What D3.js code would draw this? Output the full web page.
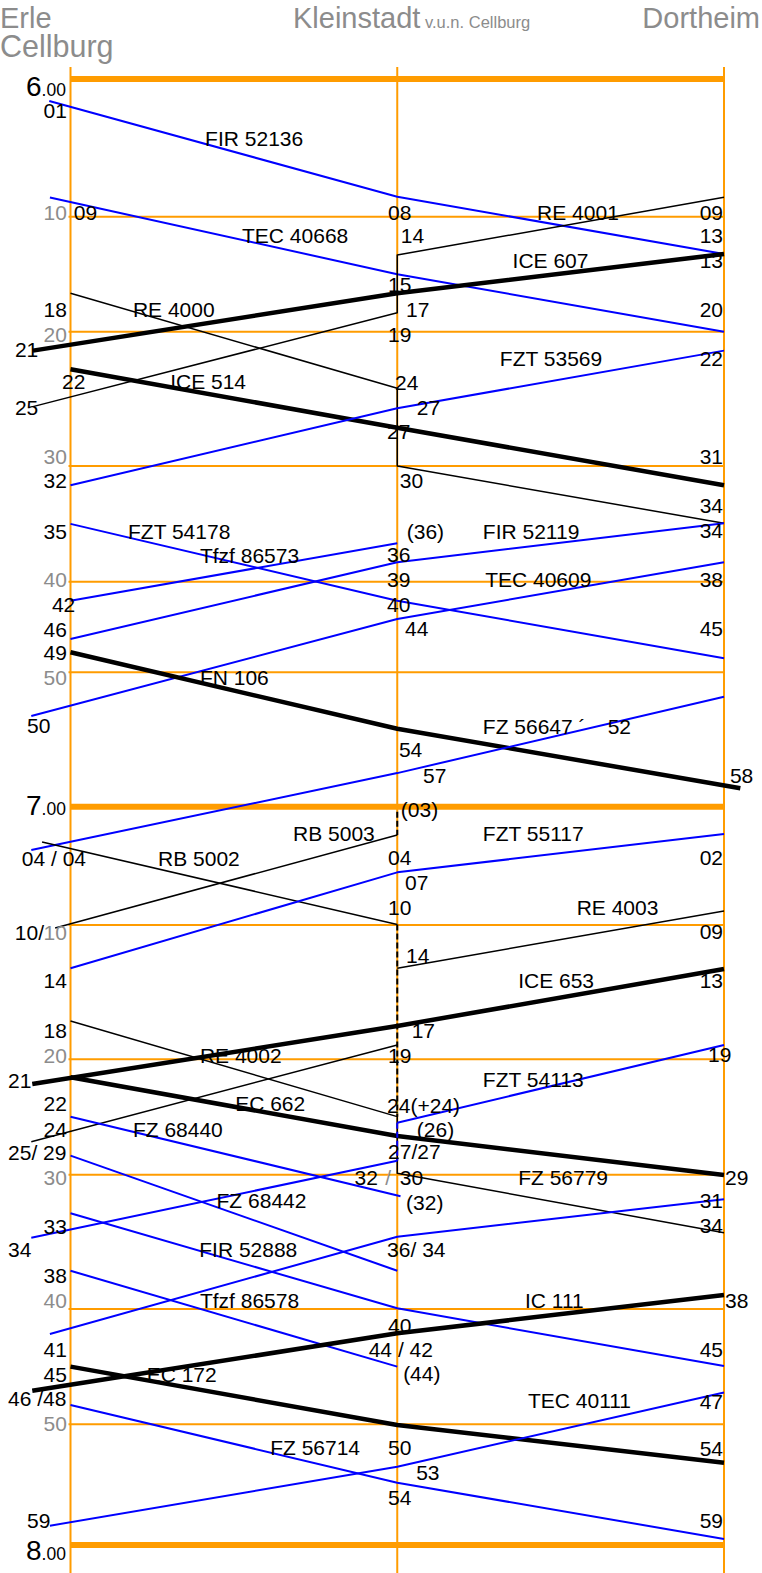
<!DOCTYPE html>
<html>
<head>
<meta charset="utf-8">
<script src="https://cdn.jsdelivr.net/npm/d3@7/dist/d3.min.js"></script>
<style>
  body { margin: 0; background: #fff; }
  text { font-family: "Liberation Sans", Arial, sans-serif; }
</style>
</head>
<body>
<svg id="graph-svg" width="762" height="1573"></svg>
<script>
// stations along the line, km
const stations = [
    { name: 'Erle', km: 0 },
    { name: 'Kleinstadt', km: 10 },
    { name: 'Dortheim', km: 20 }
]
// time in minutes after 6.00
const hourMarks = [[0, '6'], [60, '7'], [120, '8']]
const gridMinutes = [10, 20, 30, 40, 50, 70, 80, 90, 100, 110]

// trains: points are [km, minute]; null breaks the line
// kind: b = blue (Güter/Tfzf), n = thin black, f = thick black
const trains = [
    { name: 'FIR 52136', kind: 'b', pts: [[-0.65, 1.6], [10, 8.55], [20, 13.24]] },
    { name: 'TEC 40668', kind: 'b', pts: [[-0.63, 8.6], [10, 15.0], [20, 20.0]] },
    { name: 'RE 4001', kind: 'n', pts: [[20, 8.59], [10, 13.33], [10, 18.35], [-1.15, 25.58]] },
    { name: 'ICE 607', kind: 'f', pts: [[20, 13.24], [10, 16.66], [-1.15, 21.41]] },
    { name: 'RE 4000', kind: 'n', pts: [[0, 16.66], [10, 24.21], [10, 30.0], [20, 34.95]] },
    { name: 'ICE 514', kind: 'f', pts: [[0, 22.8], [10, 27.15], [20, 31.67]] },
    { name: 'FZT 53569', kind: 'b', pts: [[20, 21.41], [10, 25.7], [0, 31.67]] },
    { name: 'FZT 54178', kind: 'b', pts: [[0, 35.0], [10, 42.1], [20, 48.45]] },
    { name: 'Tfzf 86573', kind: 'b', pts: [[0, 42.1], [10, 36.68]] },
    { name: 'FIR 52119', kind: 'b', pts: [[20, 34.95], [10, 38.32], [0, 46.32]] },
    { name: 'TEC 40609', kind: 'b', pts: [[20, 38.32], [10, 44.12], [-1.2, 53.25]] },
    { name: 'FN 106', kind: 'f', pts: [[0, 47.79], [10, 54.2], [20.5, 58.63]] },
    { name: 'FZ 56647', kind: 'b', pts: [[20, 51.82], [10, 57.5], [-1.2, 63.66]] },
    { name: 'RB 5003', kind: 'n', pts: [[-0.47, 70.22], [10, 62.39]] },
    { name: 'RB 5002', kind: 'n', pts: [[-0.87, 62.98], [10, 69.95]] },
    { name: 'FZT 55117', kind: 'b', pts: [[20, 62.31], [10, 65.55], [0, 73.22]] },
    { name: 'RE 4003', kind: 'n', pts: [[20, 68.82], [10, 73.22], null, [10, 78.93], [-1.2, 87.14]] },
    { name: 'ICE 653', kind: 'f', pts: [[20, 73.28], [10, 77.52], [-1.17, 82.14]] },
    { name: 'RE 4002', kind: 'n', pts: [[0, 77.15], [10, 84.97], [10, 89.88], [20, 94.32]] },
    { name: 'EC 662', kind: 'f', pts: [[0, 81.56], [10, 86.65], [20, 90.02]] },
    { name: 'FZT 54113', kind: 'b', pts: [[20, 78.93], [10, 85.5], null, [10, 88.79], [-1.2, 94.69]] },
    { name: 'FZ 68440', kind: 'b', pts: [[0, 84.97], [10.1, 91.6]] },
    { name: 'FZ 68442', kind: 'b', pts: [[0, 88.35], [10, 97.15]] },
    { name: 'FZ 56779', kind: 'b', pts: [[20, 91.83], [10, 94.62], [-0.63, 102.17]] },
    { name: 'FIR 52888', kind: 'b', pts: [[0, 92.87], [10, 99.95], [20, 104.95]] },
    { name: 'Tfzf 86578', kind: 'b', pts: [[0, 97.15], [10, 105.0]] },
    { name: 'IC 111', kind: 'f', pts: [[20, 98.96], [10, 102.11], [-1.17, 107.09]] },
    { name: 'EC 172', kind: 'f', pts: [[0, 105.0], [10, 110.06], [20, 113.18]] },
    { name: 'TEC 40111', kind: 'b', pts: [[20, 107.24], [10, 113.51], [-0.63, 118.4]] },
    { name: 'FZ 56714', kind: 'b', pts: [[0, 108.33], [10, 114.84], [20, 119.5]] }
]

// waiting / shunting at Kleinstadt, dashed: [km, from, to, kind]
const shunts = [
    [10, 60.42, 62.39, 'n'],
    [10, 69.95, 84.97, 'n'],
    [10, 85.5, 88.79, 'b']
]

// train names: [text, km, minute]
const trainLabels = [
    ['FIR 52136', 4.12, 4.87], ['RE 4001', 14.28, 10.29], ['TEC 40668', 5.25, 12.29],
    ['ICE 607', 13.53, 14.46], ['RE 4000', 1.91, 18.72], ['FZT 53569', 13.14, 22.55],
    ['ICE 514', 3.05, 24.27], ['FZT 54178', 1.76, 36.34], ['FIR 52119', 12.62, 36.34],
    ['Tfzf 86573', 3.96, 38.36], ['TEC 40609', 12.69, 40.62], ['FN 106', 3.96, 50.94],
    ['FZ 56647 \u00b4', 12.62, 54.59],
    ['RB 5003', 6.81, 62.87], ['FZT 55117', 12.62, 62.87], ['RB 5002', 2.68, 64.99],
    ['RE 4003', 15.49, 69.15], ['ICE 653', 13.7, 74.71], ['RE 4002', 3.96, 80.29],
    ['FZT 54113', 12.62, 82.37], ['EC 662', 5.04, 84.45], ['FZ 68440', 1.91, 86.71],
    ['FZ 56779', 13.7, 90.77], ['FZ 68442', 4.47, 92.5], ['FIR 52888', 3.94, 96.15],
    ['Tfzf 86578', 3.96, 99.95], ['IC 111', 13.91, 99.95], ['EC 172', 2.33, 106.31],
    ['TEC 40111', 14.0, 108.59], ['FZ 56714', 6.11, 112.54]
]

// minute labels: [text, km, minute, anchor]
const timeLabels = [
    ['01', -0.11, 2.83, 'end'], ['09', 0.1, 10.29, 'start'], ['08', 9.72, 10.29, 'start'],
    ['09', 19.97, 10.29, 'end'], ['14', 10.11, 12.29, 'start'], ['13', 19.97, 12.29, 'end'],
    ['13', 19.97, 14.46, 'end'], ['15', 9.72, 16.52, 'start'], ['18', -0.11, 18.72, 'end'],
    ['17', 10.27, 18.72, 'start'], ['20', 19.97, 18.72, 'end'], ['19', 9.72, 20.74, 'start'],
    ['21', -1.7, 21.86, 'start'], ['22', 19.97, 22.55, 'end'], ['22', -0.26, 24.27, 'start'],
    ['24', 9.93, 24.34, 'start'], ['25', -1.7, 26.2, 'start'], ['27', 10.6, 26.2, 'start'],
    ['27', 9.69, 27.99, 'start'], ['31', 19.97, 29.87, 'end'], ['32', -0.11, 31.93, 'end'],
    ['30', 10.08, 31.93, 'start'], ['34', 19.97, 34.04, 'end'], ['35', -0.11, 36.34, 'end'],
    ['(36)', 10.29, 36.34, 'start'], ['34', 19.97, 36.25, 'end'], ['36', 9.69, 38.27, 'start'],
    ['39', 9.69, 40.62, 'start'], ['38', 19.97, 40.62, 'end'], ['42', -0.57, 43.31, 'start'],
    ['40', 9.69, 43.31, 'start'], ['46', -0.11, 46.07, 'end'], ['44', 10.24, 45.99, 'start'],
    ['45', 19.97, 45.99, 'end'], ['49', -0.11, 48.64, 'end'], ['50', -1.33, 54.54, 'start'],
    ['52', 16.44, 54.59, 'start'], ['54', 10.05, 56.32, 'start'], ['57', 10.79, 58.26, 'start'],
    ['58', 20.18, 58.26, 'start'], ['(03)', 10.11, 60.85, 'start'],
    ['04 / 04', -1.49, 64.99, 'start'], ['04', 9.72, 64.93, 'start'], ['02', 19.97, 64.93, 'end'],
    ['07', 10.24, 67.04, 'start'], ['10', 9.72, 69.15, 'start'], ['10/', -0.81, 71.12, 'end'],
    ['09', 19.97, 71.06, 'end'], ['14', 10.27, 72.81, 'start'], ['14', -0.11, 74.71, 'end'],
    ['13', 19.97, 74.71, 'end'], ['18', -0.11, 78.44, 'end'], ['17', 10.44, 78.44, 'start'],
    ['19', 9.72, 80.29, 'start'], ['19', 19.51, 80.21, 'start'], ['21', -1.91, 82.51, 'start'],
    ['22', -0.11, 84.45, 'end'], ['24(+24)', 9.69, 84.68, 'start'], ['24', -0.11, 86.71, 'end'],
    ['(26)', 10.6, 86.76, 'start'], ['25/ 29', -1.91, 88.73, 'start'], ['27/27', 9.72, 88.67, 'start'],
    ['32', 9.41, 90.77, 'end'], ['30', 10.08, 90.77, 'start'], ['29', 20.03, 90.77, 'start'],
    ['(32)', 10.27, 92.63, 'start'], ['31', 19.97, 92.5, 'end'], ['33', -0.11, 94.42, 'end'],
    ['34', 19.97, 94.36, 'end'], ['34', -1.91, 96.11, 'start'], ['36/ 34', 9.69, 96.11, 'start'],
    ['38', -0.11, 98.09, 'end'], ['38', 20.03, 99.95, 'start'], ['40', 9.72, 102.08, 'start'],
    ['41', -0.11, 104.14, 'end'], ['44', 9.84, 104.14, 'end'], ['/ 42', 10.02, 104.14, 'start'],
    ['45', 19.97, 104.14, 'end'], ['45', -0.11, 106.31, 'end'], ['(44)', 10.18, 106.24, 'start'],
    ['46 /48', -1.91, 108.41, 'start'], ['47', 19.97, 108.67, 'end'], ['50', 9.72, 112.54, 'start'],
    ['54', 19.97, 112.63, 'end'], ['53', 10.58, 114.61, 'start'], ['54', 9.72, 116.69, 'start'],
    ['59', -1.33, 118.62, 'start'], ['59', 19.97, 118.62, 'end']
]

// grey grid labels: [text, km, minute, anchor]
const gridLabels = [
    ['10', -0.11, 10.29, 'end'], ['20', -0.11, 20.74, 'end'], ['30', -0.11, 29.87, 'end'],
    ['40', -0.11, 40.62, 'end'], ['50', -0.11, 50.94, 'end'],
    ['10', -0.11, 71.12, 'end'], ['20', -0.11, 80.29, 'end'], ['30', -0.11, 90.77, 'end'],
    ['40', -0.11, 99.95, 'end'], ['50', -0.11, 110.56, 'end'], ['/', 9.63, 90.77, 'start']
]
// hour label baselines, minutes
const hourLabelAt = [1.23, 60.7, 121.24]

const colours = { b: '#0000ff', n: '#000', f: '#000', grid: '#ff9c00', grey: '#8c8c8c' }
const widths = { b: 2, n: 1.5, f: 4.5 }

const svg = d3.select('#graph-svg')
const x = d3.scaleLinear().domain([0, 20]).range([70.5, 724])
// the printed time grid is not evenly spaced
const y = d3.scaleLinear()
    .domain(d3.range(0, 121, 10))
    .range([79, 216.7, 331.7, 466, 581.7, 672.3, 806.7, 925, 1059.3, 1174.7, 1309, 1424.3, 1545])

// header
const head = svg.append('g').attr('fill', colours.grey).style('font-size', '29px')
head.append('text').attr('x', 0).attr('y', 28).text('Erle')
head.append('text').attr('x', 0).attr('y', 57).style('font-size', '30.5px').text('Cellburg')
head.append('text').attr('x', 293).attr('y', 28).text(stations[1].name)
head.append('text').attr('x', 425).attr('y', 28).style('font-size', '16.5px').text('v.u.n. Cellburg')
head.append('text').attr('x', 760).attr('y', 28).attr('text-anchor', 'end').text(stations[2].name)

// orange grid
const grid = svg.append('g').attr('stroke', colours.grid)
grid.selectAll('line.station')
    .data(stations)
    .join('line')
    .attr('class', 'station')
    .attr('x1', d => x(d.km)).attr('x2', d => x(d.km))
    .attr('y1', 67).attr('y2', 1573)
    .attr('stroke-width', 2)
grid.selectAll('line.minute')
    .data(gridMinutes)
    .join('line')
    .attr('class', 'minute')
    .attr('x1', x(0) - 2).attr('x2', x(20))
    .attr('y1', d => y(d)).attr('y2', d => y(d))
    .attr('stroke-width', 2)
grid.selectAll('line.hour')
    .data(hourMarks)
    .join('line')
    .attr('class', 'hour')
    .attr('x1', x(0)).attr('x2', x(20))
    .attr('y1', d => y(d[0])).attr('y2', d => y(d[0]))
    .attr('stroke-width', 6)

// trains
const line = d3.line().defined(d => d).x(d => x(d[0])).y(d => y(d[1]))
svg.append('g')
    .selectAll('path.train')
    .data(trains)
    .join('path')
    .attr('class', 'train')
    .attr('d', d => line(d.pts))
    .attr('fill', 'none')
    .attr('stroke', d => colours[d.kind])
    .attr('stroke-width', d => widths[d.kind])
    .attr('stroke-linejoin', 'round')

svg.append('g')
    .selectAll('line.shunt')
    .data(shunts)
    .join('line')
    .attr('class', 'shunt')
    .attr('x1', d => x(d[0])).attr('x2', d => x(d[0]))
    .attr('y1', d => y(d[1])).attr('y2', d => y(d[2]))
    .attr('stroke', d => colours[d[3]])
    .attr('stroke-width', 2)
    .attr('stroke-dasharray', '6,3')

// labels
const lab = svg.append('g').style('font-size', '21px')
lab.selectAll('text.name')
    .data(trainLabels)
    .join('text')
    .attr('class', 'name')
    .attr('x', d => x(d[1])).attr('y', d => y(d[2]))
    .text(d => d[0])
lab.selectAll('text.time')
    .data(timeLabels)
    .join('text')
    .attr('class', 'time')
    .attr('x', d => x(d[1])).attr('y', d => y(d[2]))
    .attr('text-anchor', d => d[3])
    .text(d => d[0])
lab.selectAll('text.gridlab')
    .data(gridLabels)
    .join('text')
    .attr('class', 'gridlab')
    .attr('fill', colours.grey)
    .attr('x', d => x(d[1])).attr('y', d => y(d[2]))
    .attr('text-anchor', d => d[3])
    .text(d => d[0])

const hl = lab.selectAll('text.hourlab')
    .data(hourMarks)
    .join('text')
    .attr('class', 'hourlab')
    .attr('x', x(-0.14)).attr('y', (d, i) => y(hourLabelAt[i]))
    .attr('text-anchor', 'end')
hl.append('tspan').style('font-size', '28px').text(d => d[1])
hl.append('tspan').style('font-size', '17.5px').text('.00')
</script>
</body>
</html>
